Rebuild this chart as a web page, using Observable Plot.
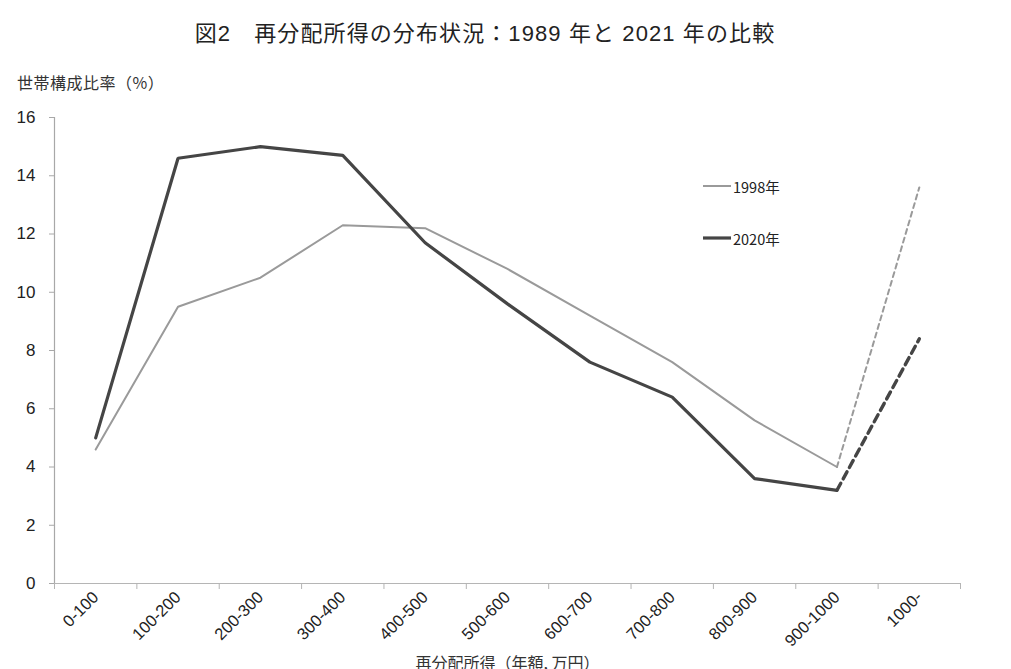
<!DOCTYPE html>
<html>
<head>
<meta charset="utf-8">
<script src="https://cdn.jsdelivr.net/npm/d3@7"></script>
<script src="https://cdn.jsdelivr.net/npm/@observablehq/plot@0.6"></script>
<style>
  body { margin: 0; background: #fff; }
  #wrap { position: relative; width: 1011px; height: 669px; overflow: hidden; background: #fff;
          font-family: "Liberation Sans", "Noto Sans CJK JP", sans-serif; }
  #title { position: absolute; left: 0; top: 15px; width: 970px; text-align: center;
           font-family: "Liberation Sans", "Noto Sans CJK JP", sans-serif; font-size: 22px; color: #222;
           letter-spacing: 1.1px; }
  #ylab { position: absolute; left: 17px; top: 70px; font-size: 16px; color: #333;
          font-family: "Noto Sans CJK JP", sans-serif; letter-spacing: 0.5px; }
  #chart { position: absolute; left: 0; top: 100px; }
  #legend { position: absolute; left: 703px; top: 175px; font-family: "Noto Sans CJK JP", sans-serif;
            font-size: 14.5px; color: #222; }
  .li { display: flex; align-items: center; height: 22px; margin-bottom: 30px; }
  .li svg { margin-right: 2px; }
</style>
</head>
<body>
<div id="wrap">
  <div id="title">図2　再分配所得の分布状況：1989 年と 2021 年の比較</div>
  <div id="ylab">世帯構成比率（%）</div>
  <div id="chart"></div>
  <div id="legend"></div>
</div>
<script>
// ---- data ----
const categories = ["0-100","100-200","200-300","300-400","400-500","500-600","600-700","700-800","800-900","900-1000","1000-"];
const seriesNames = ["1998年", "2020年"];
const values1998 = [4.6, 9.5, 10.5, 12.3, 12.2, 10.8, 9.2, 7.6, 5.6, 4.0, 13.6];
const values2020 = [5.0, 14.6, 15.0, 14.7, 11.7, 9.6, 7.6, 6.4, 3.6, 3.2, 8.4];
const yTicks = [0, 2, 4, 6, 8, 10, 12, 14, 16];
const xTitle = "再分配所得（年額, 万円）";

// ---- styles ----
const colors = {"1998年": "#9a9a9a", "2020年": "#454545"};
const widths = {"1998年": 2, "2020年": 3.2};
const dashWidths = {"1998年": 2, "2020年": 3.4};

const rows = [];
[values1998, values2020].forEach((vals, s) => {
  vals.forEach((v, i) => rows.push({series: seriesNames[s], i, cat: categories[i], x: i + 0.5, y: v}));
});
const lastIdx = categories.length - 1;
const solid = rows.filter(d => d.i <= lastIdx - 1);
const dashed = rows.filter(d => d.i >= lastIdx - 1);

const marks = [];
marks.push(Plot.ruleY([0], {stroke: "#b5b5b5", strokeWidth: 1.2}));
marks.push(Plot.ruleX([0], {y1: 0, y2: 16, stroke: "#a8a8a8", strokeWidth: 1.2}));
// x tick marks at band boundaries
marks.push(Plot.axisX(d3.range(categories.length + 1), {tickSize: 6, text: null, stroke: "#b5b5b5", label: null}));
// x tick labels at band centres
marks.push(Plot.axisX(d3.range(categories.length).map(i => i + 0.5), {
  tickSize: 0, tickPadding: 11, tickRotate: -45,
  tickFormat: d => categories[Math.round(d - 0.5)],
  fill: "#222", label: null
}));
marks.push(Plot.axisY(yTicks, {tickSize: 5, tickPadding: 14, fill: "#222", stroke: "#a8a8a8", label: null}));
for (const s of seriesNames) {
  marks.push(Plot.line(solid.filter(d => d.series === s), {x: "x", y: "y", stroke: colors[s], strokeWidth: widths[s], strokeLinejoin: "miter"}));
  marks.push(Plot.line(dashed.filter(d => d.series === s), {x: "x", y: "y", stroke: colors[s], strokeWidth: dashWidths[s],
    strokeDasharray: s === "2020年" ? "8,5" : "5,4"}));
}

const plot = Plot.plot({
  width: 1011,
  height: 569,
  marginTop: 17,
  marginBottom: 86,
  marginLeft: 54,
  marginRight: 51,
  style: {fontFamily: "'Liberation Sans', 'Noto Sans CJK JP', sans-serif", fontSize: "16.5px", background: "transparent", overflow: "visible"},
  x: {type: "linear", domain: [0, categories.length], axis: null},
  y: {domain: [0, 16], axis: null},
  marks: [
    ...marks,
    Plot.text([xTitle], {frameAnchor: "bottom", dy: 85, fill: "#333",
      fontFamily: "'Noto Sans CJK JP', sans-serif"})
  ]
});
document.getElementById("chart").appendChild(plot);
// font sizes of the axis texts
d3.select(plot).selectAll("text").each(function () {
  const t = this.textContent;
  if (categories.includes(t)) this.style.fontSize = "16.5px";
  else if (t === xTitle) this.style.fontSize = "16px";
  else this.style.fontSize = "17px";
});

// ---- legend ----
const leg = document.getElementById("legend");
for (const s of seriesNames) {
  const div = document.createElement("div");
  div.className = "li";
  div.innerHTML = `<svg width="28" height="10"><line x1="0" x2="28" y1="5" y2="5" stroke="${colors[s]}" stroke-width="${widths[s]}"/></svg><span>${s}</span>`;
  leg.appendChild(div);
}
</script>
</body>
</html>
